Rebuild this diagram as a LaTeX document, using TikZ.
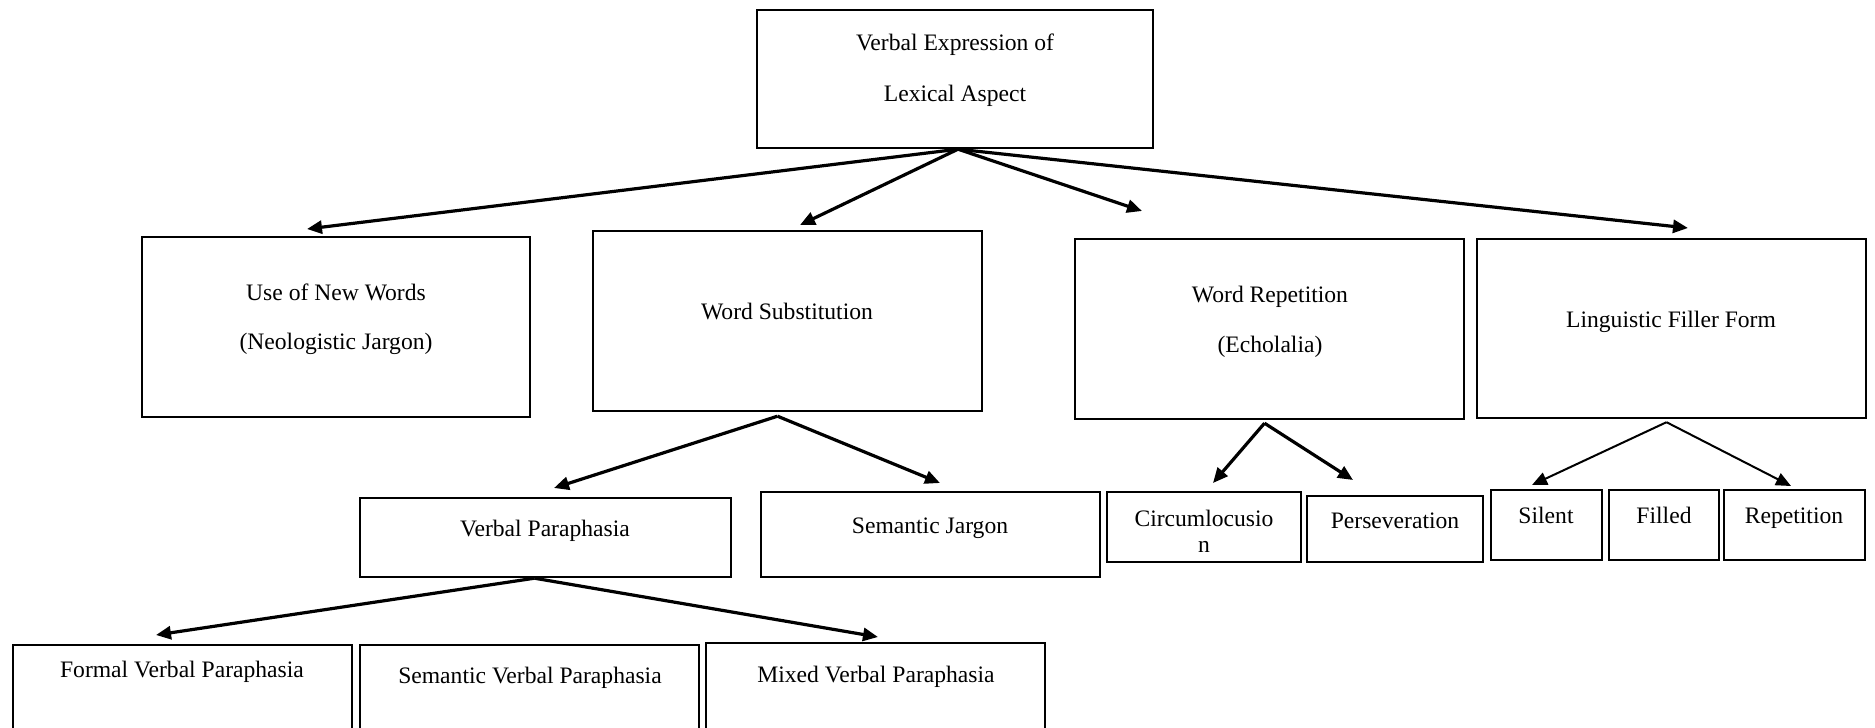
\documentclass[tikz,border=0pt]{standalone}
\usepackage{fontspec}
\setmainfont{Liberation Serif}
\usetikzlibrary{arrows.meta}
\tikzset{
  cell/.style={draw, line width=2.4pt, inner sep=0pt},
  lbl/.style={font=\fontsize{23.6}{26}\selectfont, anchor=base, align=center, inner sep=0pt},
  arr/.style={line width=3.2pt, -{Triangle[length=15pt,width=13pt]}},
  thinarr/.style={arr, line width=2pt},
}
\newcommand{\Cell}[5]{\node[cell, minimum width={#4-#2}, minimum height={#5-#3}] (#1) at ({(#2+#4)/2},{(#3+#5)/2}) {};}

\begin{document}
\begin{tikzpicture}[x=1pt, y=-1pt]
\useasboundingbox (0,0) rectangle (1875,728);
\clip (0,0) rectangle (1875,728);

\Cell{top}{757}{10}{1153}{148}
	\Cell{use}{142}{237}{530}{417}
	\Cell{sub}{593}{231}{982}{411}
	\Cell{rep}{1075}{239}{1464}{419}
	\Cell{ling}{1477}{239}{1866}{418}
	
	\Cell{vp}{360}{498}{731}{577}
	\Cell{sj}{761}{492}{1100}{577}
	\Cell{circ}{1107}{492}{1301}{562}
	\Cell{pers}{1307}{496}{1483}{562}
	\Cell{silent}{1491}{490}{1602}{560}
	\Cell{filled}{1609}{490}{1719}{560}
	\Cell{repet}{1724}{490}{1865}{560}
	
	\Cell{formal}{13}{645}{352}{760}
	\Cell{semvp}{360}{645}{699}{760}
	\Cell{mixed}{706}{643}{1045}{760}
	
	\node[lbl] (topT) at (955,101) {Verbal Expression of\\[25pt]Lexical Aspect};
	\node[lbl] (useT) at (336,349) {Use of New Words\\[23pt](Neologistic Jargon)};
	\node[lbl] (subT) at (787,319) {Word Substitution};
	\node[lbl] (repT) at (1270,352) {Word Repetition\\[24pt](Echolalia)};
	\node[lbl] (lingT) at (1671,327) {Linguistic Filler Form};
	\node[lbl] (vpT) at (545,536) {Verbal Paraphasia};
	\node[lbl] (sjT) at (930,533) {Semantic Jargon};
	\node[lbl] (circT) at (1204,552) {Circumlocusio\\n};
	\node[lbl] (persT) at (1395,528) {Perseveration};
	\node[lbl] (silentT) at (1546,523) {Silent};
	\node[lbl] (filledT) at (1664,523) {Filled};
	\node[lbl] (repetT) at (1794,523) {Repetition};
	\node[lbl] (formalT) at (182,677) {Formal Verbal Paraphasia};
	\node[lbl] (semvpT) at (530,683) {Semantic Verbal Paraphasia};
	\node[lbl] (mixedT) at (876,682) {Mixed Verbal Paraphasia};
	
	\coordinate (useTip) at (307,229);
	\coordinate (subTip) at (800,225);
	\coordinate (repTip) at (1142,211);
	\coordinate (lingTip) at (1688,228);
	\coordinate (vpTip) at (554,488);
	\coordinate (sjTip) at (940,483);
	\coordinate (circTip) at (1213,483);
	\coordinate (persTip) at (1353,480);
	\coordinate (silentTip) at (1532,485);
	\coordinate (repetTip) at (1791,486);
	\coordinate (formalTip) at (156,635);
	\coordinate (mixedTip) at (878,637);
	
	\draw[arr] ([xshift=3]top.south) -- (useTip);
	\draw[arr] ([xshift=3]top.south) -- (subTip);
	\draw[arr] ([xshift=3]top.south) -- (repTip);
	\draw[arr] ([xshift=3]top.south) -- (lingTip);
	
	\draw[arr] ([xshift=-10,yshift=-4]sub.south) -- (vpTip);
	\draw[arr] ([xshift=-10,yshift=-4]sub.south) -- (sjTip);
	
	\draw[arr] ([xshift=-5,yshift=-3]rep.south) -- (circTip);
	\draw[arr] ([xshift=-5,yshift=-3]rep.south) -- (persTip);
	
	\draw[thinarr] ([xshift=-5,yshift=-3]ling.south) -- (silentTip);
	\draw[thinarr] ([xshift=-5,yshift=-3]ling.south) -- (repetTip);
	
	\draw[arr] ([xshift=-11]vp.south) -- (formalTip);
	\draw[arr] ([xshift=-11]vp.south) -- (mixedTip);

\end{tikzpicture}
\end{document}
